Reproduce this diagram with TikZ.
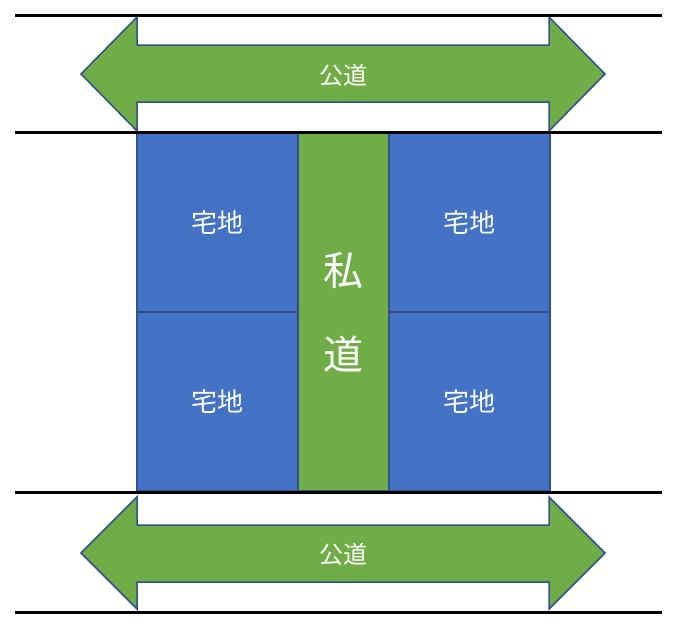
\documentclass[tikz,border=0pt]{standalone}
\usepackage{fontspec}
\setmainfont{Noto Sans CJK JP}
\definecolor{lotblue}{HTML}{4472C4}
\definecolor{roadgreen}{HTML}{70AD47}
\definecolor{edgeblue}{HTML}{2F528F}
\begin{document}
\begin{tikzpicture}[
    x=1pt, y=-1pt,
    lot/.style={draw=edgeblue, line width=1.5pt, fill=lotblue, text=white, font=\fontsize{26}{26}\selectfont},
    privroad/.style={draw=edgeblue, line width=1.5pt, fill=roadgreen, text=white, align=center, font=\fontsize{40}{84}\selectfont},
    pubroad/.style={draw=edgeblue, line width=1.5pt, fill=roadgreen},
    roadlabel/.style={text=white, font=\fontsize{24}{24}\selectfont},
    border/.style={line width=3pt}
    ]
\useasboundingbox (0,0) rectangle (680,630);

% Lots and private road (fixed coordinates)
\node[lot, minimum width=161pt, minimum height=179pt, inner sep=0pt] (lotA) at (217.5,222.5) {宅地};
\node[lot, minimum width=161pt, minimum height=179pt, inner sep=0pt] (lotB) at (217.5,401.5) {宅地};
\node[lot, minimum width=161pt, minimum height=179pt, inner sep=0pt] (lotC) at (469.5,222.5) {宅地};
\node[lot, minimum width=161pt, minimum height=179pt, inner sep=0pt] (lotD) at (469.5,401.5) {宅地};
\node[privroad, minimum width=91pt, minimum height=358pt, inner sep=0pt] (priv) at (343.5,312) {私\\道};

% Public roads (double arrows)
\draw[pubroad] (81,74) -- (137,17) -- (137,45) -- (549,45) -- (549,17) -- (605,74)
    -- (549,131) -- (549,102) -- (137,102) -- (137,131) -- cycle;
\node[roadlabel] (roadN) at (343,75) {公道};
\draw[pubroad] (81,553) -- (137,497) -- (137,525) -- (549,525) -- (549,497) -- (605,553)
    -- (549,609) -- (549,582) -- (137,582) -- (137,609) -- cycle;
\node[roadlabel] (roadS) at (343,554) {公道};

% Boundary lines
\coordinate (t1) at (15,15);  \coordinate (t2) at (662,15);
\coordinate (m1) at (15,132); \coordinate (m2) at (662,132);
\coordinate (b1) at (15,492); \coordinate (b2) at (662,492);
\coordinate (e1) at (15,612); \coordinate (e2) at (662,612);
\draw[border] (t1) -- (t2);
\draw[border] (m1) -- (m2);
\draw[border] (b1) -- (b2);
\draw[border] (e1) -- (e2);

\end{tikzpicture}
\end{document}
